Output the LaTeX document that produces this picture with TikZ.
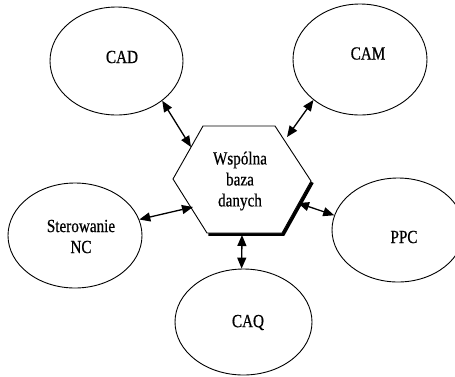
\documentclass[tikz,border=0pt]{standalone}
\usepackage{fontspec}
\setmainfont{Liberation Serif}[FakeStretch=0.82,FakeBold=0.6]
\usetikzlibrary{shapes.geometric,arrows.meta}
\begin{document}
\begin{tikzpicture}[x=1pt,y=-1pt,
  unit/.style={draw,ellipse,inner sep=0pt,line width=0.9pt},
  link/.style={{Triangle[length=11pt,width=9pt]}-{Triangle[length=11pt,width=9pt]},line width=1.3pt},
  lbl/.style={font=\fontsize{18.5}{21}\selectfont,align=center,inner sep=0pt}]
\useasboundingbox (0,0) rectangle (455,376);

% surrounding systems
\node[unit,minimum width=133pt,minimum height=108pt,
  label={[lbl,xshift=5.5pt,yshift=4pt]center:CAD}] (cad) at (116.5,61) {};
\node[unit,minimum width=134pt,minimum height=111pt,
  label={[lbl,xshift=8pt,yshift=6pt]center:CAM}] (cam) at (360,59.5) {};
\node[unit,minimum width=134pt,minimum height=105pt,
  label={[lbl,xshift=6pt,yshift=-1pt]center:Sterowanie\\NC}] (nc) at (75,235.5) {};
\node[unit,minimum width=132pt,minimum height=104pt,
  label={[lbl,xshift=6pt,yshift=-7pt]center:PPC}] (ppc) at (398,230) {};
\node[unit,minimum width=137pt,minimum height=106pt,
  label={[lbl,xshift=4.5pt,yshift=-0.5pt]center:CAQ}] (caq) at (243.5,322) {};

% central database hexagon
\coordinate (hL)  at (173,179);
\coordinate (hTL) at (203,126);
\coordinate (hTR) at (275,126);
\coordinate (hR)  at (311,181);
\coordinate (hBR) at (282,233);
\coordinate (hBL) at (207,233);
\draw[line width=3.2pt,line join=miter]
  ([xshift=1.3pt,yshift=-1.3pt]hR) -- ([xshift=1.3pt,yshift=-1.3pt]hBR) -- ([xshift=1.3pt,yshift=-1.3pt]hBL);
\draw[fill=white,line width=0.9pt] (hL) -- (hTL) -- (hTR) -- (hR) -- (hBR) -- (hBL) -- cycle;
\node[lbl] (db) at (240,181) {Wspólna\\baza\\danych};

% attachment points on the hexagon
\coordinate (h1) at (191,147);
\coordinate (h2) at (287,137);
\coordinate (h3) at (193,207);
\coordinate (h4) at (298,203);
\coordinate (h5) at (242,235);

% links
\draw[link] (cad.-41.5) -- (h1);
\draw[link] (cam.-139.5) -- (h2);
\draw[link] (nc.14) -- (h3);
\draw[link] (ppc.167.6) -- (h4);
\draw[link] (caq.92) -- (h5);
\end{tikzpicture}
\end{document}
